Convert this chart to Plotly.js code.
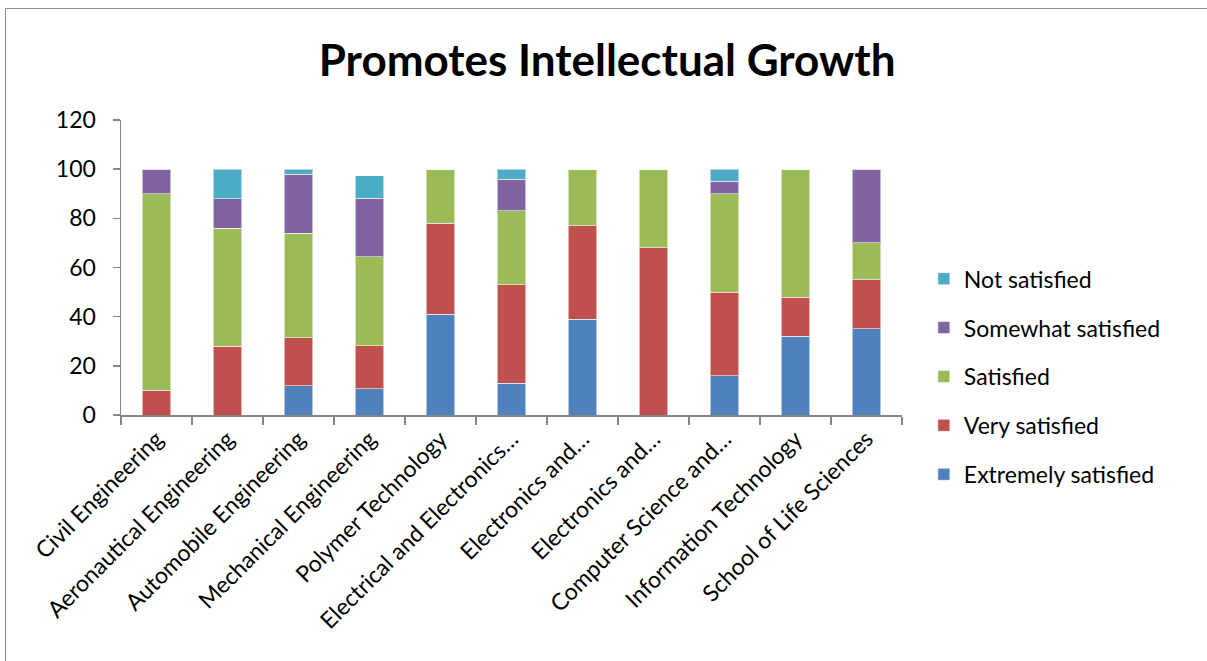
<!DOCTYPE html>
<html>
<head>
<meta charset="utf-8">
<script src="https://cdn.plot.ly/plotly-3.0.1.min.js"></script>
<style>
  html, body { margin: 0; padding: 0; background: #fff; overflow: hidden; }
  #wrap { position: relative; width: 1207px; height: 661px; }
  #frame { position: absolute; left: 5px; top: 8px; width: 1240px; height: 700px; border: 1px solid #8c8c8c; box-sizing: border-box; pointer-events: none; z-index: 5; }
  #chart { position: absolute; left: 0; top: 0; width: 1207px; height: 661px; }
</style>
</head>
<body>
<div id="wrap">
  <div id="chart"></div>
  <div id="frame"></div>
</div>
<script>
// Categories (two share the same truncated label in the source)
const categories = [
  "Civil Engineering",
  "Aeronautical Engineering",
  "Automobile Engineering",
  "Mechanical Engineering",
  "Polymer Technology",
  "Electrical and Electronics…",
  "Electronics and…",
  "Electronics and…",
  "Computer Science and…",
  "Information Technology",
  "School of Life Sciences"
];

// Series values (percent)
const extremelySatisfied = [0, 0, 12, 10.6, 41, 13, 39, 0, 16, 32, 35];
const verySatisfied      = [10, 28, 19.5, 17.6, 37, 40, 38, 68, 34, 16, 20];
const satisfied          = [80, 48, 42.5, 36.2, 22, 30, 23, 32, 40, 52, 15];
const somewhatSatisfied  = [10, 12, 24, 23.7, 0, 13, 0, 0, 5, 0, 30];
const notSatisfied       = [0, 12, 2, 9.2, 0, 4, 0, 0, 5, 0, 0];

const seriesNames = ["Extremely satisfied", "Very satisfied", "Satisfied", "Somewhat satisfied", "Not satisfied"];
const seriesValues = [extremelySatisfied, verySatisfied, satisfied, somewhatSatisfied, notSatisfied];
const seriesColors = ["#4F81BD", "#C0504D", "#9BBB59", "#8064A2", "#4BACC6"];

const yTickVals = [0, 20, 40, 60, 80, 100, 120];

// unique keys so identical labels stay separate categories
const catKeys = categories.map((c, i) => c + "\u200b".repeat(i));

const FONT = "Lato, Carlito, Calibri, 'Open Sans', sans-serif";

const traces = seriesNames.map((name, k) => ({
  type: "bar",
  name: name,
  x: catKeys,
  y: seriesValues[k],
  legendgroup: "g" + k,
  legendrank: seriesNames.length - k,
  marker: { color: seriesColors[k], line: { color: "rgba(255,255,255,0.55)", width: 1 } },
  hoverinfo: "x+y+name"
}));

const layout = {
  width: 1207,
  height: 661,
  barmode: "stack",
  bargap: 0.6,
  paper_bgcolor: "#fff",
  plot_bgcolor: "#fff",
  margin: { l: 121, r: 305, t: 120, b: 246, pad: 0 },
  font: { family: FONT, size: 22, color: "#000" },
  title: {
    text: "<b>Promotes Intellectual Growth</b>",
    font: { family: FONT, size: 44, color: "#000" },
    x: 0.503, xref: "container", xanchor: "center",
    y: 0.908, yref: "container", yanchor: "middle"
  },
  xaxis: {
    type: "category",
    tickmode: "array",
    tickvals: catKeys,
    ticktext: categories,
    tickangle: -45,
    tickson: "boundaries",
    ticks: "outside",
    ticklen: 8,
    tickwidth: 1.5,
    tickcolor: "#868686",
    showline: true,
    linecolor: "#868686",
    linewidth: 1.5,
    showgrid: false,
    zeroline: false,
    tickfont: { family: FONT, size: 23, color: "#000" }
  },
  yaxis: {
    range: [0, 120],
    tickmode: "array",
    tickvals: yTickVals,
    ticks: "outside",
    ticklen: 7,
    tickwidth: 1.5,
    tickcolor: "#868686",
    showline: true,
    linecolor: "#868686",
    linewidth: 1.5,
    showgrid: false,
    zeroline: false,
    ticklabelstandoff: 12,
    tickfont: { family: FONT, size: 23, color: "#000" }
  },
  showlegend: true,
  legend: {
    x: 1.028, xanchor: "left",
    y: 0.535, yanchor: "top",
    traceorder: "grouped",
    tracegroupgap: 16,
    font: { family: FONT, size: 23, color: "#000" },
    bgcolor: "rgba(0,0,0,0)"
  }
};

Plotly.newPlot("chart", traces, layout, { displayModeBar: false, staticPlot: true });
</script>
</body>
</html>
